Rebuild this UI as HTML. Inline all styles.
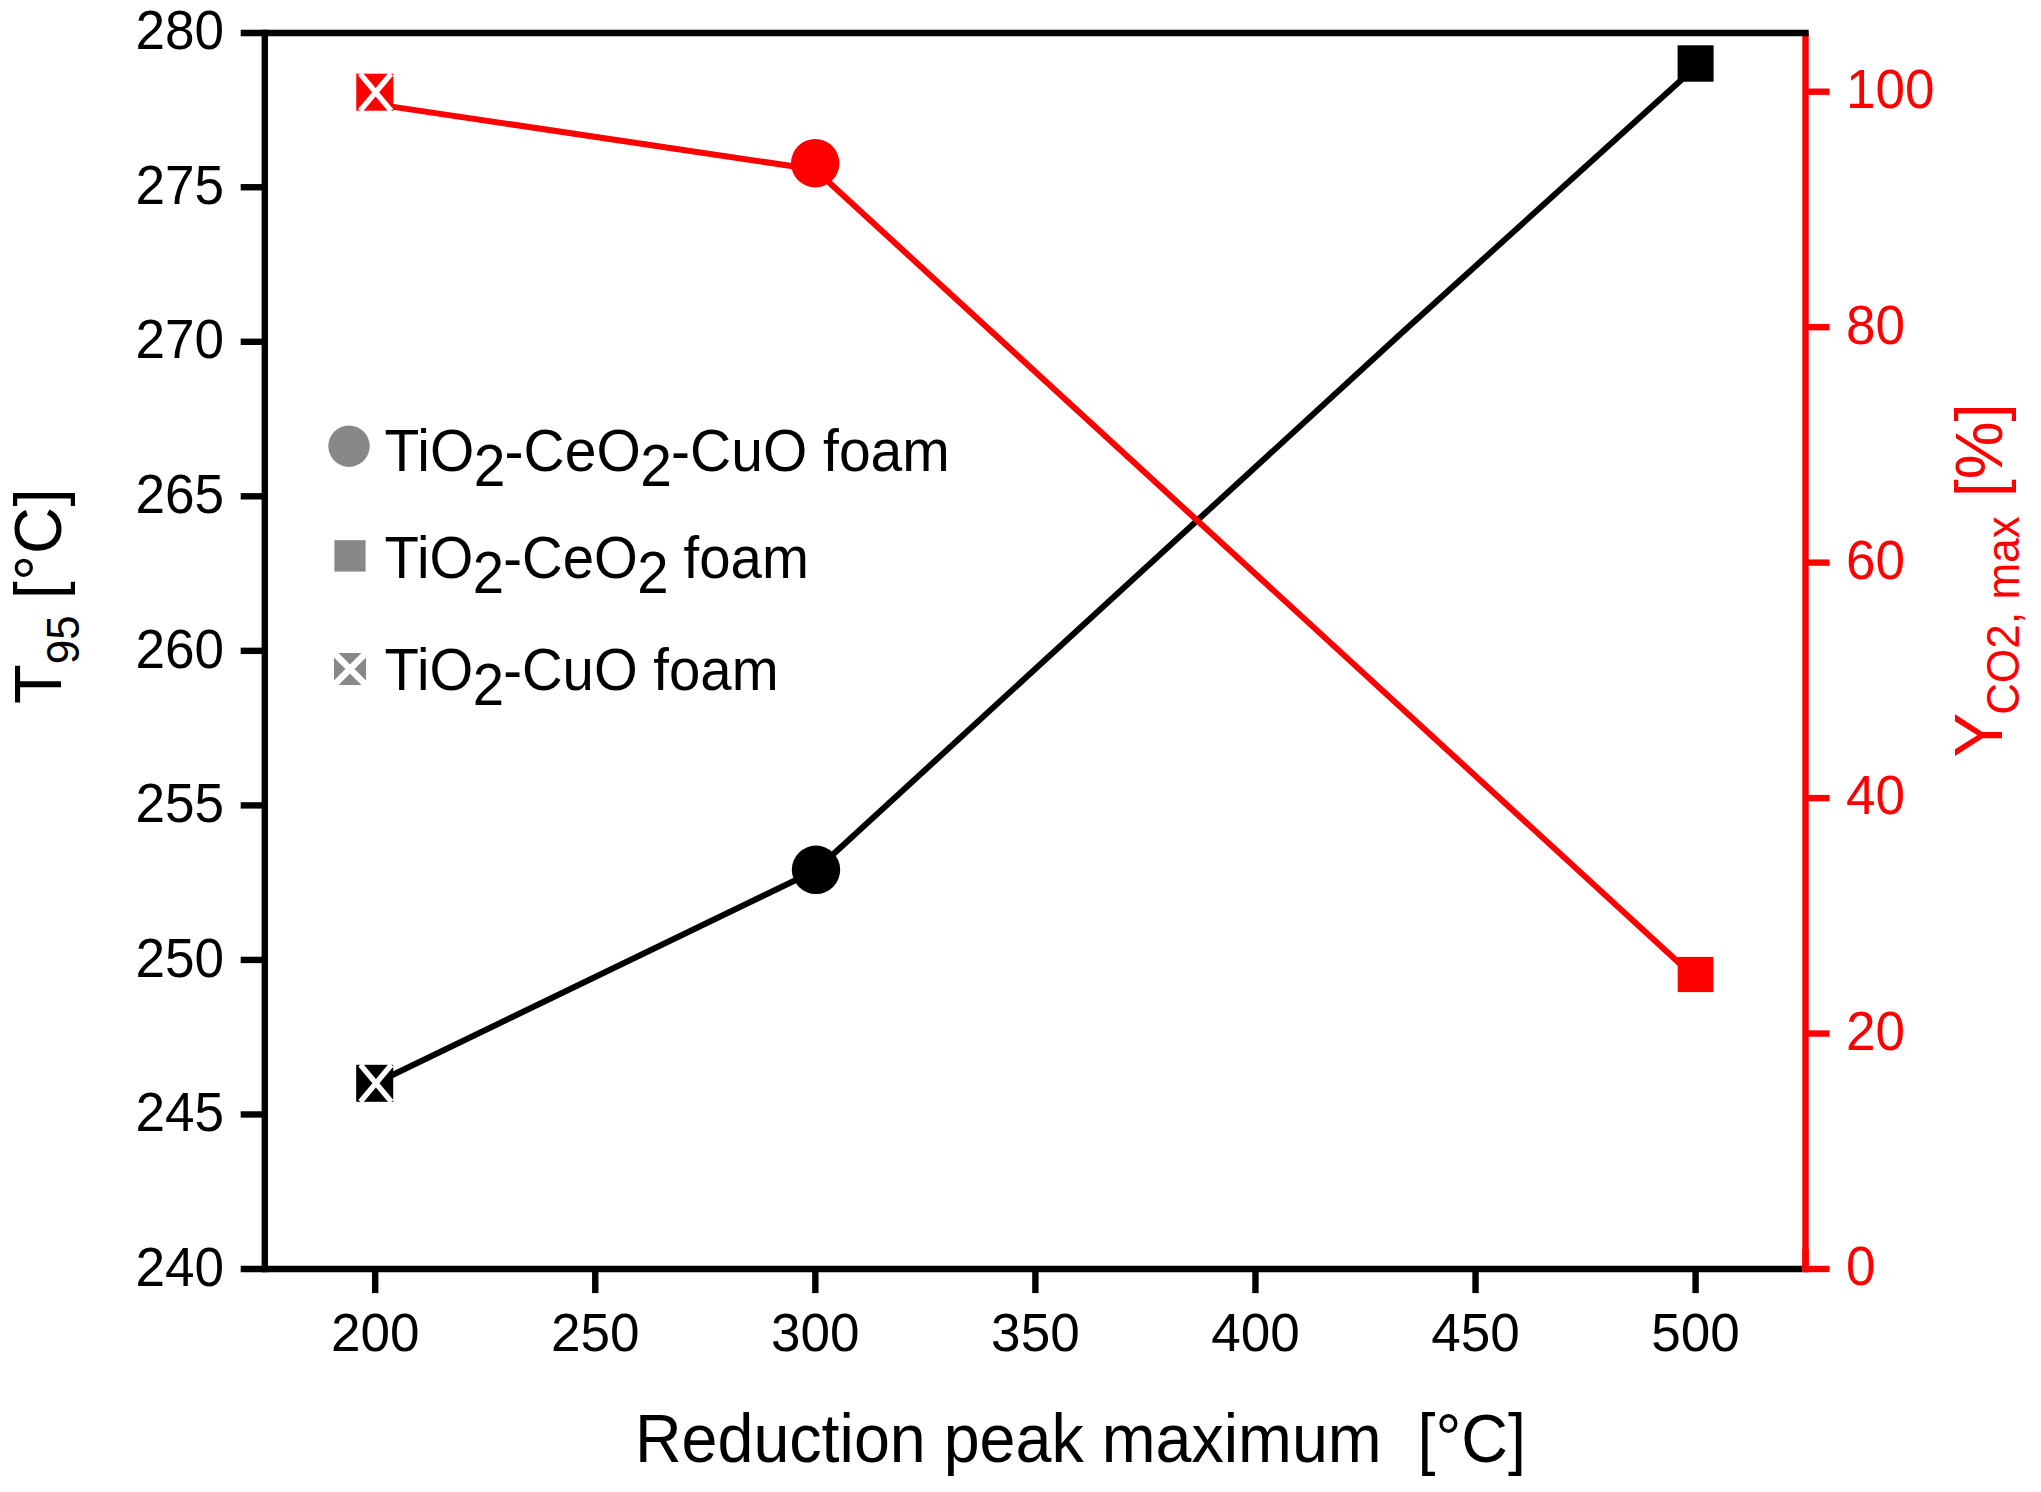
<!DOCTYPE html>
<html lang="en"><head><meta charset="utf-8"><title>T95 and CO2 yield vs reduction peak maximum</title>
<style>html,body{margin:0;padding:0;background:#fff}svg{display:block}text{font-family:"Liberation Sans",sans-serif}</style></head><body>
<svg width="2041" height="1492" viewBox="0 0 2041 1492">
<rect width="2041" height="1492" fill="#fff"/>
<g stroke="#ff0000" stroke-width="6.4" fill="none">
<line x1="1805.5" y1="33.0" x2="1805.5" y2="1272.2"/>
</g>
<g stroke="#000" stroke-width="6.4" fill="none">
<line x1="264.8" y1="29.8" x2="264.8" y2="1272.2"/>
<line x1="240.7" y1="33.0" x2="1808.7" y2="33.0"/>
<line x1="240.7" y1="1269.0" x2="1802.3" y2="1269.0"/>
<line x1="240.7" y1="1114.46" x2="264.8" y2="1114.46"/>
<line x1="240.7" y1="959.92" x2="264.8" y2="959.92"/>
<line x1="240.7" y1="805.39" x2="264.8" y2="805.39"/>
<line x1="240.7" y1="650.85" x2="264.8" y2="650.85"/>
<line x1="240.7" y1="496.31" x2="264.8" y2="496.31"/>
<line x1="240.7" y1="341.78" x2="264.8" y2="341.78"/>
<line x1="240.7" y1="187.24" x2="264.8" y2="187.24"/>
<line x1="375.20" y1="1269.0" x2="375.20" y2="1293.1"/>
<line x1="595.26" y1="1269.0" x2="595.26" y2="1293.1"/>
<line x1="815.33" y1="1269.0" x2="815.33" y2="1293.1"/>
<line x1="1035.39" y1="1269.0" x2="1035.39" y2="1293.1"/>
<line x1="1255.46" y1="1269.0" x2="1255.46" y2="1293.1"/>
<line x1="1475.53" y1="1269.0" x2="1475.53" y2="1293.1"/>
<line x1="1695.59" y1="1269.0" x2="1695.59" y2="1293.1"/>
</g>
<g stroke="#ff0000" stroke-width="6.4" fill="none">
<line x1="1805.5" y1="1249.0" x2="1805.5" y2="1272.2"/>
<line x1="1805.5" y1="1269.00" x2="1829.6" y2="1269.00"/>
<line x1="1805.5" y1="1033.54" x2="1829.6" y2="1033.54"/>
<line x1="1805.5" y1="798.08" x2="1829.6" y2="798.08"/>
<line x1="1805.5" y1="562.62" x2="1829.6" y2="562.62"/>
<line x1="1805.5" y1="327.16" x2="1829.6" y2="327.16"/>
<line x1="1805.5" y1="91.70" x2="1829.6" y2="91.70"/>
</g>
<text transform="translate(224.00,1285.70) scale(0.965,1.025)" font-size="55" fill="#000" text-anchor="end">240</text>
<text transform="translate(224.00,1131.16) scale(0.965,1.025)" font-size="55" fill="#000" text-anchor="end">245</text>
<text transform="translate(224.00,976.62) scale(0.965,1.025)" font-size="55" fill="#000" text-anchor="end">250</text>
<text transform="translate(224.00,822.09) scale(0.965,1.025)" font-size="55" fill="#000" text-anchor="end">255</text>
<text transform="translate(224.00,667.55) scale(0.965,1.025)" font-size="55" fill="#000" text-anchor="end">260</text>
<text transform="translate(224.00,513.01) scale(0.965,1.025)" font-size="55" fill="#000" text-anchor="end">265</text>
<text transform="translate(224.00,358.48) scale(0.965,1.025)" font-size="55" fill="#000" text-anchor="end">270</text>
<text transform="translate(224.00,203.94) scale(0.965,1.025)" font-size="55" fill="#000" text-anchor="end">275</text>
<text transform="translate(224.00,49.40) scale(0.965,1.025)" font-size="55" fill="#000" text-anchor="end">280</text>
<text transform="translate(375.20,1351.20) scale(0.965,0.965)" font-size="55" fill="#000" text-anchor="middle">200</text>
<text transform="translate(595.26,1351.20) scale(0.965,0.965)" font-size="55" fill="#000" text-anchor="middle">250</text>
<text transform="translate(815.33,1351.20) scale(0.965,0.965)" font-size="55" fill="#000" text-anchor="middle">300</text>
<text transform="translate(1035.39,1351.20) scale(0.965,0.965)" font-size="55" fill="#000" text-anchor="middle">350</text>
<text transform="translate(1255.46,1351.20) scale(0.965,0.965)" font-size="55" fill="#000" text-anchor="middle">400</text>
<text transform="translate(1475.53,1351.20) scale(0.965,0.965)" font-size="55" fill="#000" text-anchor="middle">450</text>
<text transform="translate(1695.59,1351.20) scale(0.965,0.965)" font-size="55" fill="#000" text-anchor="middle">500</text>
<text transform="translate(1846.10,1285.40) scale(0.965,1.01)" font-size="55" fill="#ff0000" text-anchor="start">0</text>
<text transform="translate(1846.10,1049.94) scale(0.965,1.01)" font-size="55" fill="#ff0000" text-anchor="start">20</text>
<text transform="translate(1846.10,814.48) scale(0.965,1.01)" font-size="55" fill="#ff0000" text-anchor="start">40</text>
<text transform="translate(1846.10,579.02) scale(0.965,1.01)" font-size="55" fill="#ff0000" text-anchor="start">60</text>
<text transform="translate(1846.10,343.56) scale(0.965,1.01)" font-size="55" fill="#ff0000" text-anchor="start">80</text>
<text transform="translate(1846.10,108.10) scale(0.965,1.01)" font-size="55" fill="#ff0000" text-anchor="start">100</text>
<polyline fill="none" stroke="#000" stroke-width="6" stroke-linejoin="round" points="374.8,1083.5 815.5,870.5 1400,334.5 1695.6,67.0"/>
<polyline fill="none" stroke="#ff0000" stroke-width="6" stroke-linejoin="round" points="374.8,104.1 815.0,169.5 1695.5,978.0"/>
<rect x="356.20" y="1064.80" width="37" height="37" fill="#000"/><path d="M360.40,1064.80L391.40,1101.80M391.40,1064.80L360.40,1101.80" stroke="#fff" stroke-width="5.4" fill="none"/>
<circle cx="816.0" cy="869.8" r="24.2" fill="#000"/>
<rect x="1677.6" y="45.3" width="36" height="36.4" fill="#000"/>
<rect x="356.30" y="73.70" width="37" height="37" fill="#ff0000"/><path d="M360.10,73.70L391.10,110.70M391.10,73.70L360.10,110.70" stroke="#fff" stroke-width="5.4" fill="none"/>
<circle cx="815.2" cy="163.2" r="24.2" fill="#ff0000"/>
<rect x="1677.7" y="956.9" width="35.6" height="35.2" fill="#ff0000"/>
<circle cx="349" cy="446.2" r="20.7" fill="#888"/>
<rect x="334.4" y="540.2" width="31.2" height="31.4" fill="#888"/>
<rect x="334.00" y="653.00" width="32" height="32" fill="#888"/><path d="M334.00,653.00L366.00,685.00M366.00,653.00L334.00,685.00" stroke="#fff" stroke-width="6.5" fill="none"/>
<text transform="translate(384.60,471.20) scale(1,1.033)" font-size="57.0" fill="#000" text-anchor="start">TiO<tspan dy="14.6" dx="-0.6">2</tspan><tspan dy="-14.6" dx="-0.8">-CeO</tspan><tspan dy="14.6" dx="-0.6">2</tspan><tspan dy="-14.6" dx="-0.8">-CuO foam</tspan></text>
<text transform="translate(384.60,578.00) scale(0.989,1.033)" font-size="57.0" fill="#000" text-anchor="start">TiO<tspan dy="14.6" dx="-0.6">2</tspan><tspan dy="-14.6" dx="-0.8">-CeO</tspan><tspan dy="14.6" dx="-0.6">2</tspan><tspan dy="-14.6" dx="-0.8"> foam</tspan></text>
<text transform="translate(384.60,689.80) scale(0.988,1.033)" font-size="57.0" fill="#000" text-anchor="start">TiO<tspan dy="14.6" dx="-0.6">2</tspan><tspan dy="-14.6" dx="-0.8">-CuO foam</tspan></text>
<text transform="translate(634.90,1462.00) scale(0.994,1.065)" font-size="65" fill="#000" text-anchor="start" xml:space="preserve">Reduction peak maximum  [°C]</text>
<text transform="translate(61.40,704.00) rotate(-90) scale(1.0,1.035)" font-size="65" fill="#000" text-anchor="start">T<tspan font-size="44" dy="17.0">95</tspan><tspan dy="-17.0" dx="-2.6" letter-spacing="0.6"> [°C]</tspan></text>
<text transform="translate(2001.70,757.60) rotate(-90) scale(1.0,1.035)" font-size="65" fill="#ff0000" text-anchor="start"><tspan font-size="67">Y</tspan><tspan font-size="44" dy="17.0" dx="-1.9" letter-spacing="0.08">CO2, max</tspan><tspan dy="-17.0" dx="0.9"> [%]</tspan></text>
</svg></body></html>
